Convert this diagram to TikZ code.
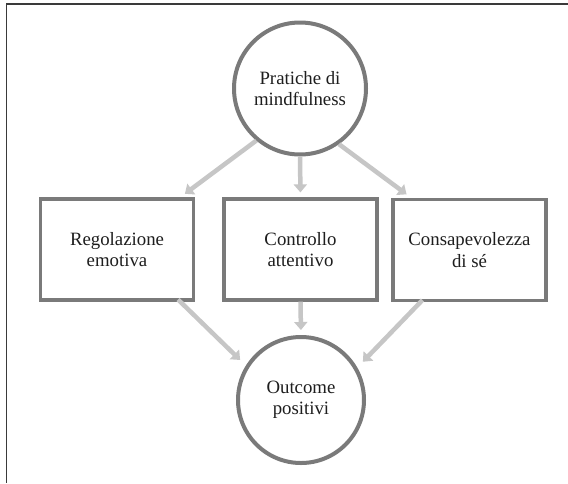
\documentclass[tikz,border=0pt]{standalone}
\usepackage{fontspec}
\setmainfont{Liberation Serif}
\usetikzlibrary{arrows.meta}
\definecolor{framecol}{HTML}{3A3A3A}
\definecolor{shapecol}{HTML}{7A7A7A}
\definecolor{arrowcol}{HTML}{C6C6C6}
\definecolor{textcol}{HTML}{1E1E1E}
\tikzset{
  lbl/.style={text=textcol, align=center, font=\fontsize{18.8}{21.5}\selectfont},
  circnode/.style={lbl, circle, draw=shapecol, line width=4pt, fill=white, minimum size=132pt, inner sep=0pt},
  boxnode/.style={lbl, rectangle, draw=shapecol, line width=3.2pt, fill=white, minimum width=153pt, minimum height=101pt, inner sep=0pt},
  arr/.style={draw=arrowcol, line width=4.5pt, -{Triangle[width=13pt,length=8pt]}},
  framecolline/.style={draw=framecol, line width=1.5pt}
}
\begin{document}
\begin{tikzpicture}[x=1pt,y=-1pt]
\useasboundingbox (0,0) rectangle (568,483);
\fill[white] (0,0) rectangle (568,483);
% frame (top and left only)
\coordinate (ftl) at (6.5,4);
\coordinate (ftr) at (568,4);
\coordinate (fbl) at (6.5,483);
\draw[framecolline] (ftr) -- (ftl) -- (fbl);
% nodes
\node[circnode] (top) at (300,88.5) {Pratiche di\\mindfulness};
\node[boxnode] (lbox) at (117,249.5) {Regolazione\\emotiva};
\node[boxnode] (mbox) at (300.5,249.5) {Controllo\\attentivo};
\node[boxnode] (rbox) at (469.5,250) {Consapevolezza\\di sé};
\node[circnode, minimum size=126pt] (bot) at (301,400) {Outcome\\positivi};
% connectors
\draw[arr, shorten >=6pt] (top.230) -- ([xshift=-15pt]lbox.north east);
\draw[arr, shorten >=5pt] (top.south) -- (mbox.north);
\draw[arr, shorten >=6pt] (top.305) -- ([xshift=20pt]rbox.north west);
\draw[arr, shorten >=8pt] ([xshift=-17pt,yshift=2pt]lbox.south east) -- (bot.148);
\draw[arr, shorten >=5pt] (mbox.south) -- (bot.north);
\draw[arr, shorten >=8pt] ([xshift=31pt,yshift=2pt]rbox.south west) -- (bot.30);
\end{tikzpicture}
\end{document}
